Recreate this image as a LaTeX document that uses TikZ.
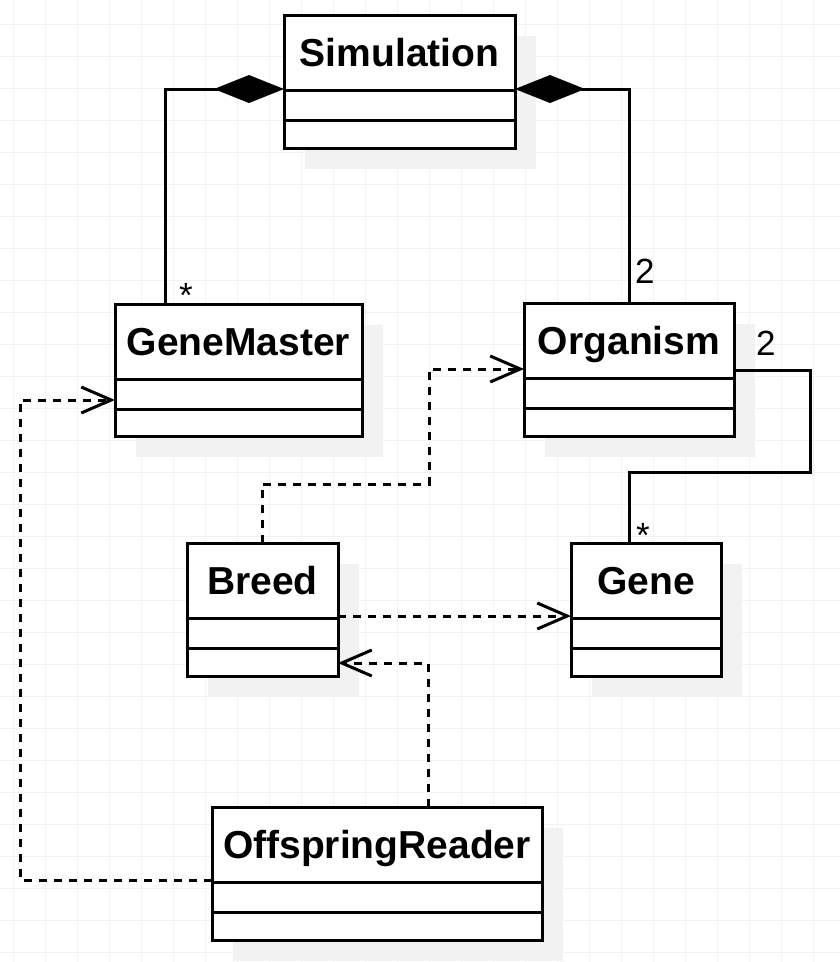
\documentclass[tikz,border=0pt]{standalone}
\usepackage{fontspec}
\setmainfont{Liberation Sans}
\usetikzlibrary{arrows.meta,calc}
\newcommand\umlclass[6]{%
  \node[classbox, minimum width={(#5-#3)*1pt}, minimum height={(#6-#4)*1pt}] (#1) at ({(#3+#5)/2},{(#4+#6)/2}) {};
  \draw[divider] ($(#1.north west)+(0,75)$) -- ($(#1.north east)+(0,75)$);
  \draw[divider] ($(#1.north west)+(0,105)$) -- ($(#1.north east)+(0,105)$);
  \node[classname] (#1-name) at ($(#1.north)+(0,37.5)$) {#2};
}
\newcommand\umlshadow[4]{%
  \fill[shadowfill] (#1+21,#2+21) rectangle (#3+21,#4+21);
}
\begin{document}
\begin{tikzpicture}[x=1pt,y=-1pt,
  classbox/.style={draw,line width=3pt,fill=white,inner sep=0pt,outer sep=0pt},
  divider/.style={line width=3pt},
  shadowfill/.style={fill=black!5},
  gridline/.style={draw=black!5,line width=1pt},
  classname/.style={font=\bfseries\fontsize{39}{41}\selectfont, inner sep=0pt, text height=28pt, text depth=0pt},
  mult/.style={font=\fontsize{35}{37}\selectfont, inner sep=0pt, anchor=base west},
  assoc/.style={line width=3pt},
  dep/.style={line width=3pt, dash pattern=on 8pt off 7pt, -{Straight Barb[length=30pt,width=26pt]}},
  comp/.style={line width=3pt, {Diamond[length=70pt,width=28pt]}-}
]
\useasboundingbox (0,0) rectangle (840,962);
\fill[white] (0,0) rectangle (840,962);
% grid
\foreach \gx in {13,45,...,840} \draw[gridline] (\gx,0) -- (\gx,962);
\foreach \gy in {24,56,...,962} \draw[gridline] (0,\gy) -- (840,\gy);
% shadows
\umlshadow{284}{15}{515}{148}
\umlshadow{115}{304}{362}{436}
\umlshadow{524}{303}{734}{436}
\umlshadow{187}{543}{338}{676}
\umlshadow{571}{543}{721}{676}
\umlshadow{212}{807}{542}{940}
% classes
\umlclass{sim}{Simulation}{284}{15}{515}{148}
\umlclass{gm}{GeneMaster}{115}{304}{362}{436}
\umlclass{org}{Organism}{524}{303}{734}{436}
\umlclass{breed}{Breed}{187}{543}{338}{676}
\umlclass{gene}{Gene}{571}{543}{721}{676}
\umlclass{offs}{OffspringReader}{212}{807}{542}{940}
% anchor points
\coordinate (simL) at ($(sim.north west)+(0,74)$);
\coordinate (simR) at ($(sim.north east)+(0,74)$);
\coordinate (gmT) at ($(gm.north west)+(50,0)$);
\coordinate (gmL) at ($(gm.north west)+(0,96)$);
\coordinate (orgR) at ($(org.north east)+(0,67)$);
\coordinate (orgL) at ($(org.north west)+(0,66)$);
\coordinate (geneT) at ($(gene.north west)+(58,0)$);
\coordinate (geneL) at ($(gene.north west)+(0,73)$);
\coordinate (brT) at ($(breed.north west)+(75,0)$);
\coordinate (brR1) at ($(breed.north east)+(0,73)$);
\coordinate (brR2) at ($(breed.north east)+(0,120)$);
\coordinate (offT) at ($(offs.north west)+(216,0)$);
\coordinate (offL) at ($(offs.north west)+(0,73)$);
% compositions
\draw[comp] (simL) -- (simL -| gmT) -- (gmT);
\draw[comp] (simR) -- (simR -| org.north) -- (org.north);
% association
\draw[assoc] (orgR) -| (810,472) -| (geneT);
% dependencies
\draw[dep] (brT) |- (429,484) |- (orgL);
\draw[dep] (brR1) -- (geneL);
\draw[dep] (offT) |- (brR2);
\draw[dep] (offL) -- (20,880) |- (gmL);
% multiplicities
\node[mult] (m1) at (179,307) {*};
\node[mult] (m2) at (635,283) {2};
\node[mult] (m3) at (756,355) {2};
\node[mult] (m4) at (636,547) {*};
\end{tikzpicture}
\end{document}
